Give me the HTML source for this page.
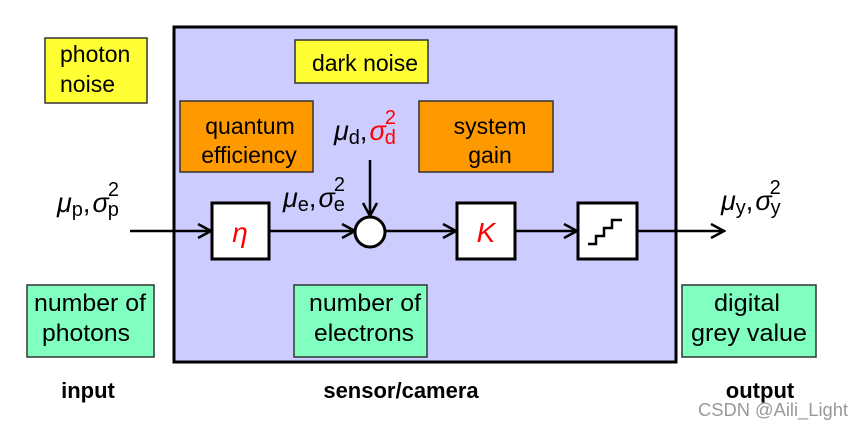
<!DOCTYPE html>
<html><head><style>body{margin:0;background:#fff}svg{display:block}</style></head><body>
<svg width="864" height="429" viewBox="0 0 864 429" font-family="Liberation Sans, Arial, sans-serif">
<defs><marker id="a" markerWidth="16" markerHeight="16" refX="14" refY="8" orient="auto" markerUnits="userSpaceOnUse"><path d="M1,1 L14,8 L1,15" fill="none" stroke="#000" stroke-width="2.5"/></marker></defs>
<rect x="174" y="27" width="502" height="335" fill="#ccccff" stroke="#000" stroke-width="3"/>
<rect x="45" y="38" width="102" height="65" fill="#ffff33" stroke="#333" stroke-width="1.5"/>
<text x="60" y="62" font-size="23">photon</text><text x="60" y="92" font-size="23">noise</text>
<rect x="295" y="40" width="133" height="43" fill="#ffff33" stroke="#333" stroke-width="1.5"/>
<text x="365" y="71" font-size="23" text-anchor="middle">dark noise</text>
<rect x="180" y="101" width="133" height="71" fill="#ff9900" stroke="#333" stroke-width="1.5"/>
<text x="250" y="134" font-size="23" text-anchor="middle">quantum</text><text x="249" y="163" font-size="23" text-anchor="middle">efficiency</text>
<rect x="419" y="101" width="134" height="71" fill="#ff9900" stroke="#333" stroke-width="1.5"/>
<text x="490" y="134" font-size="23" text-anchor="middle">system</text><text x="490" y="163" font-size="23" text-anchor="middle">gain</text>
<line x1="130" y1="231" x2="211" y2="231" stroke="#000" stroke-width="2.5" marker-end="url(#a)"/>
<line x1="269" y1="231" x2="355" y2="231" stroke="#000" stroke-width="2.5" marker-end="url(#a)"/>
<line x1="385" y1="231" x2="456" y2="231" stroke="#000" stroke-width="2.5" marker-end="url(#a)"/>
<line x1="515" y1="231" x2="577" y2="231" stroke="#000" stroke-width="2.5" marker-end="url(#a)"/>
<line x1="637" y1="231" x2="724" y2="231" stroke="#000" stroke-width="2.5" marker-end="url(#a)"/>
<line x1="370" y1="160" x2="370" y2="216" stroke="#000" stroke-width="2.5" marker-end="url(#a)"/>
<rect x="212" y="203" width="57" height="56" fill="#fff" stroke="#000" stroke-width="3"/>
<text x="240" y="242" font-size="28" font-style="italic" fill="#ff0000" text-anchor="middle">η</text>
<circle cx="370" cy="232" r="15" fill="#fff" stroke="#000" stroke-width="3"/>
<rect x="457" y="203" width="58" height="56" fill="#fff" stroke="#000" stroke-width="3"/>
<text x="486" y="242" font-size="28" font-style="italic" fill="#ff0000" text-anchor="middle">K</text>
<rect x="578" y="203" width="59" height="56" fill="#fff" stroke="#000" stroke-width="3"/>
<path d="M588,244 H596 V236 H604 V228 H612 V220 H622" fill="none" stroke="#000" stroke-width="2.5"/>
<text x="57" y="212" font-size="27"><tspan font-style="italic">μ</tspan><tspan font-size="20" dy="4">p</tspan><tspan dy="-4">,</tspan><tspan font-style="italic" dx="2">σ</tspan><tspan font-size="20" dy="4" dx="-1">p</tspan><tspan font-size="20" dy="-20" dx="-11">2</tspan></text>
<text x="283" y="207" font-size="27"><tspan font-style="italic">μ</tspan><tspan font-size="20" dy="4">e</tspan><tspan dy="-4">,</tspan><tspan font-style="italic" dx="2">σ</tspan><tspan font-size="20" dy="4" dx="-1">e</tspan><tspan font-size="20" dy="-20" dx="-11">2</tspan></text>
<text x="334" y="140" font-size="27"><tspan font-style="italic">μ</tspan><tspan font-size="20" dy="4">d</tspan><tspan dy="-4">,</tspan><tspan font-style="italic" fill="#ff0000" dx="2">σ</tspan><tspan font-size="20" dy="4" dx="-1" fill="#ff0000">d</tspan><tspan font-size="20" dy="-20" dx="-11" fill="#ff0000">2</tspan></text>
<text x="721" y="210" font-size="27"><tspan font-style="italic">μ</tspan><tspan font-size="20" dy="4">y</tspan><tspan dy="-4">,</tspan><tspan font-style="italic" dx="2">σ</tspan><tspan font-size="20" dy="4" dx="-1">y</tspan><tspan font-size="20" dy="-20" dx="-11">2</tspan></text>
<rect x="27" y="285" width="127" height="72" fill="#80ffc0" stroke="#333" stroke-width="1.5"/>
<text x="90" y="311" font-size="24" text-anchor="middle" textLength="112" lengthAdjust="spacingAndGlyphs">number of</text><text x="86" y="341" font-size="24" text-anchor="middle" textLength="88" lengthAdjust="spacingAndGlyphs">photons</text>
<rect x="294" y="285" width="133" height="72" fill="#80ffc0" stroke="#333" stroke-width="1.5"/>
<text x="365" y="311" font-size="24" text-anchor="middle" textLength="112" lengthAdjust="spacingAndGlyphs">number of</text><text x="364" y="341" font-size="24" text-anchor="middle" textLength="100" lengthAdjust="spacingAndGlyphs">electrons</text>
<rect x="682" y="285" width="134" height="72" fill="#80ffc0" stroke="#333" stroke-width="1.5"/>
<text x="747" y="311" font-size="24" text-anchor="middle" textLength="66" lengthAdjust="spacingAndGlyphs">digital</text><text x="749" y="341" font-size="24" text-anchor="middle" textLength="116" lengthAdjust="spacingAndGlyphs">grey value</text>
<text x="88" y="398" font-size="22" font-weight="bold" text-anchor="middle">input</text>
<text x="401" y="398" font-size="22" font-weight="bold" text-anchor="middle">sensor/camera</text>
<text x="760" y="398" font-size="22" font-weight="bold" text-anchor="middle">output</text>
<text x="848" y="416" font-size="18" fill="#999" text-anchor="end" textLength="150" lengthAdjust="spacingAndGlyphs">CSDN @Aili_Light</text>
</svg>
</body></html>
